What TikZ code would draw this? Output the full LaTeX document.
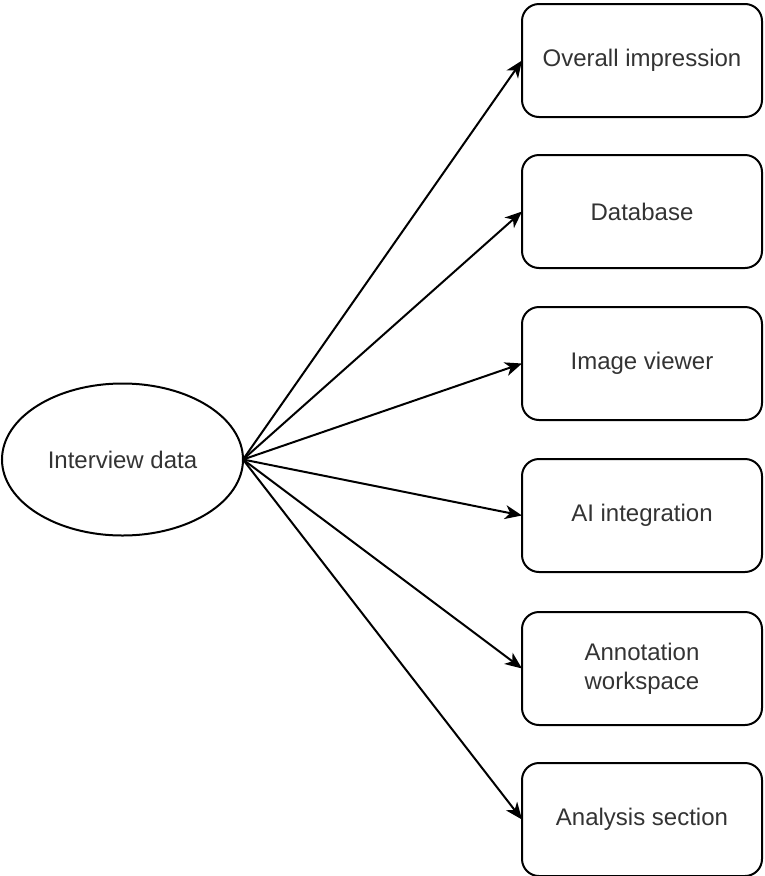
\documentclass[tikz,border=0pt]{standalone}
\usepackage{fontspec}
\setmainfont{Liberation Sans}
\usetikzlibrary{shapes.geometric,arrows.meta}
\definecolor{txt}{RGB}{51,51,51}
\tikzset{
  box/.style={draw=black, line width=2pt, rounded corners=17pt, minimum width=240pt, minimum height=113pt, align=center, text=txt, font=\fontsize{24pt}{29pt}\selectfont, outer sep=0pt, inner sep=0pt},
  oval/.style={draw=black, line width=2pt, ellipse, minimum width=241pt, minimum height=152pt, inner sep=0pt, text=txt, font=\fontsize{24pt}{29pt}\selectfont, outer sep=0pt},
  arr/.style={line width=2pt, -{Stealth[length=17pt,width=14pt,inset=5pt]}}
}
\begin{document}
\begin{tikzpicture}[x=1pt,y=-1pt]
\useasboundingbox (0,0) rectangle (765,876);
\node[oval] (src) at (122.5,459.5) {Interview data};
\node[box] (b1) at (642,60.5) {Overall impression};
\node[box] (b2) at (642,211.5) {Database};
\node[box] (b3) at (642,363.5) {Image viewer};
\node[box] (b4) at (642,515.5) {AI integration};
\node[box] (b5) at (642,668.5) {Annotation\\workspace};
\node[box] (b6) at (642,819.5) {Analysis section};
\foreach \b in {b1,b2,b3,b4,b5,b6}{
  \draw[arr] (src.east) -- (\b.west);
}
\end{tikzpicture}
\end{document}
